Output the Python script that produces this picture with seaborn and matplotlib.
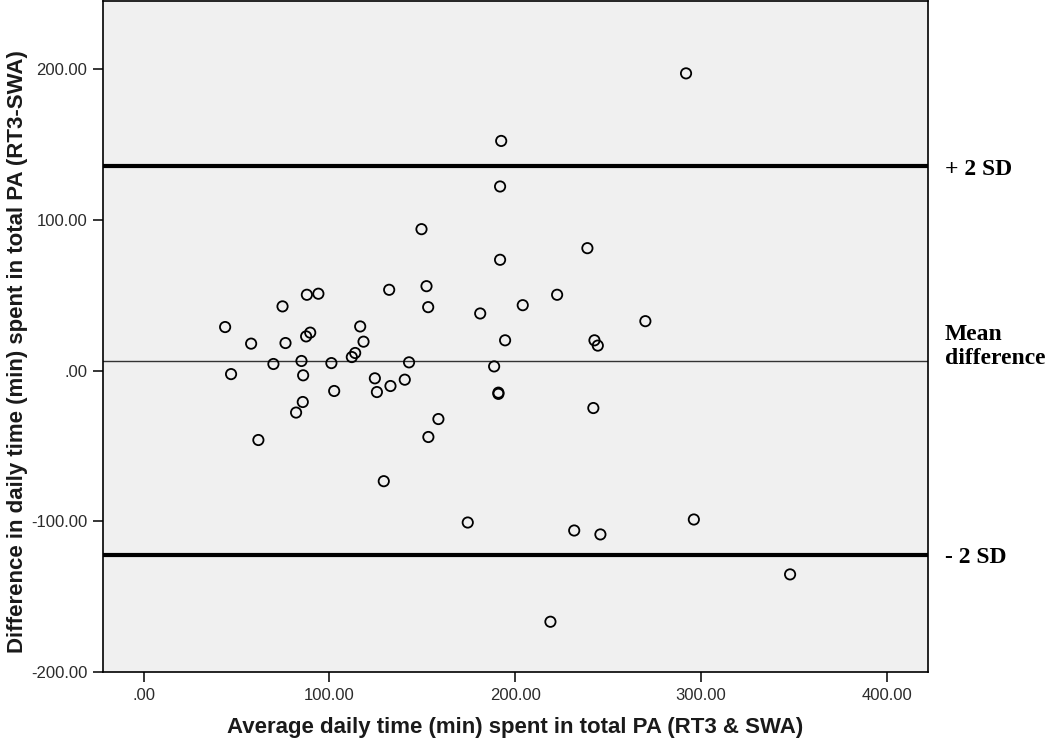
import numpy as np
import pandas as pd
import matplotlib
matplotlib.use("Agg")
import matplotlib.pyplot as plt
import seaborn as sns

# Bland-Altman: average of RT3 & SWA vs difference (RT3 - SWA)
avg_min = [292.0, 192.5, 191.9, 149.6, 191.9, 238.9, 132.2, 152.3, 153.2, 181.2,
           204.1, 222.6, 270.1, 87.9, 94.1, 74.8, 43.9, 116.6, 89.7, 87.5,
           57.9, 76.4, 118.4, 194.6, 242.7, 244.5, 69.9, 85.0, 101.1, 112.1,
           113.9, 142.9, 188.7, 47.1, 85.9, 124.5, 140.6, 132.9, 102.6, 125.6,
           191.0, 191.0, 85.7, 82.1, 158.7, 242.1, 61.8, 153.3, 129.3, 231.8,
           245.9, 296.2, 174.5, 348.0, 219.0]
diff_min = [197.1, 152.3, 122.1, 93.8, 73.5, 81.2, 53.6, 56.0, 42.1, 37.9,
            43.4, 50.3, 32.8, 50.3, 51.0, 42.6, 28.9, 29.3, 25.2, 22.7,
            17.9, 18.3, 19.2, 20.1, 20.1, 16.6, 4.4, 6.4, 5.0, 9.0,
            11.7, 5.5, 2.8, -2.3, -3.1, -5.1, -6.0, -10.2, -13.5, -14.2,
            -14.6, -15.4, -20.8, -27.8, -32.1, -24.8, -46.0, -44.0, -73.3, -106.0,
            -108.6, -98.7, -100.7, -135.1, -166.5]

mean_diff = 6.6
upper_loa = 135.5
lower_loa = -122.3

x_ticks = [0, 100, 200, 300, 400]
x_tick_labels = [".00", "100.00", "200.00", "300.00", "400.00"]
y_ticks = [-200, -100, 0, 100, 200]
y_tick_labels = ["-200.00", "-100.00", ".00", "100.00", "200.00"]

df = pd.DataFrame({"avg": avg_min, "diff": diff_min})

sns.set_style("white")
plt.rcParams["font.family"] = ["Liberation Sans", "DejaVu Sans"]

fig = plt.figure(figsize=(10.5, 7.44), dpi=100)
ax = fig.add_axes([0.0978, 0.0964, 0.7863, 0.9025])
ax.set_facecolor("#f0f0f0")

# limits of agreement and mean difference
ax.axhline(upper_loa, color="black", lw=3, zorder=1)
ax.axhline(lower_loa, color="black", lw=3, zorder=1)
ax.axhline(mean_diff, color="#333333", lw=1, zorder=1)

sns.scatterplot(data=df, x="avg", y="diff", ax=ax, s=55,
                facecolors="none", edgecolor="black", linewidth=1.3, zorder=3)

ax.set_xlim(-22, 422.4)
ax.set_ylim(-200, 245.2)
ax.set_xticks(x_ticks)
ax.set_xticklabels(x_tick_labels)
ax.set_yticks(y_ticks)
ax.set_yticklabels(y_tick_labels)
ax.tick_params(axis="both", direction="out", length=7.5, width=1.1,
               color="black", labelsize=12, labelcolor="#2b2b2b", pad=3.5,
               bottom=True, left=True)

for side in ["top", "right", "bottom", "left"]:
    ax.spines[side].set_visible(True)
    ax.spines[side].set_color("black")
    ax.spines[side].set_linewidth(1.2)

ax.set_xlabel("Average daily time (min) spent in total PA (RT3 & SWA)",
              fontsize=16, fontweight="bold", color="#1a1a1a")
ax.set_ylabel("Difference in daily time (min) spent in total PA (RT3-SWA)",
              fontsize=16, fontweight="bold", color="#1a1a1a")
ax.xaxis.label.set_va("center")
ax.yaxis.label.set_va("center")
ax.xaxis.set_label_coords(0.5, -0.082)
ax.yaxis.set_label_coords(-0.103, 0.477)

# labels for the reference lines, outside the plot on the right
lab_kw = dict(xycoords=("axes fraction", "data"), textcoords="offset points",
              fontsize=17, fontweight="bold", family=["Liberation Serif", "DejaVu Serif"],
              ha="left", va="center", annotation_clip=False, color="black")
ax.annotate("+ 2 SD", xy=(1.0, upper_loa), xytext=(12, -2), **lab_kw)
ax.annotate("Mean\ndifference", xy=(1.0, mean_diff), xytext=(12, 10), **lab_kw)
ax.annotate("- 2 SD", xy=(1.0, lower_loa), xytext=(12, -2), **lab_kw)

plt.savefig("out.png", dpi=100)
